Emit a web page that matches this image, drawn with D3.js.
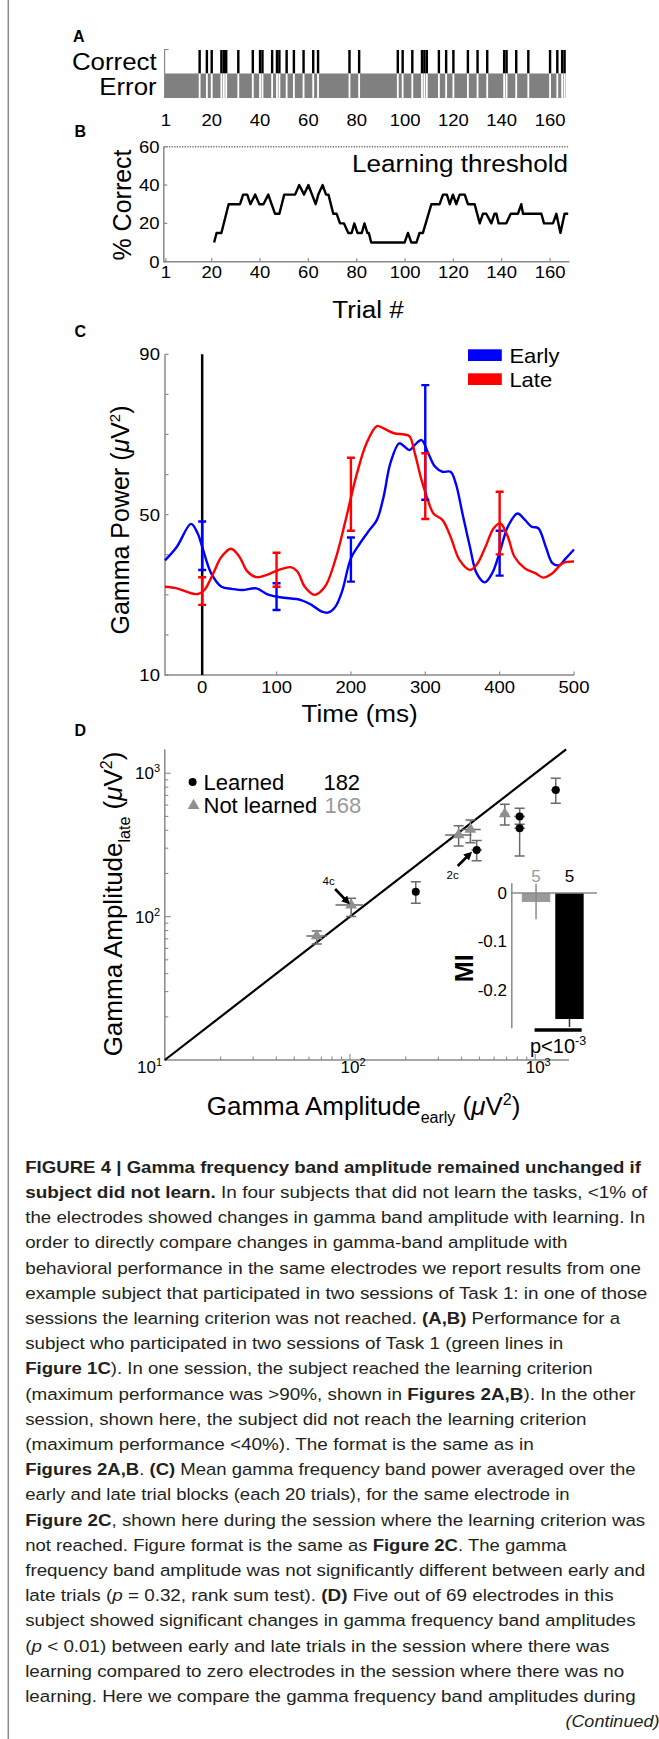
<!DOCTYPE html>
<html><head><meta charset="utf-8">
<script src="https://cdn.jsdelivr.net/npm/d3@7"></script>
<style>body{margin:0;background:#fff}svg{display:block}</style>
</head><body>
<svg id="fig" width="659" height="1739"></svg>
<script>
// ---------- DATA ----------
// Panel A: trial outcomes
const trialTicks = [1, 20, 40, 60, 80, 100, 120, 140, 160];
const nTrials = 166;
const correctTrials = [15, 18, 20, 24, 25, 26, 31, 37, 40, 41, 45, 47, 48, 51, 54, 58, 62, 64, 77, 81,
  97, 99, 103, 107, 108, 109, 114, 117, 120, 126, 130, 134, 141, 142, 146, 151, 160, 163, 165, 166];
// Panel B: % correct (moving window), vertices
const perfTrial = [21, 22, 24, 27, 31.7, 33, 34.7, 36, 38, 39.7, 41.4, 43.4, 46.2, 48, 50, 54.5, 56.2, 58.2, 60, 63,
  64.1, 65.9, 67.3, 68.3, 70.3, 71.7, 73.1, 74.7, 76.5, 77.9, 79, 80.3, 82.1, 83.2, 84.4, 85, 86, 99.8, 101.2, 102.6,
  104.7, 106, 107.4, 110.9, 114.3, 115.7, 117.3, 118.5, 119.8, 121.2, 122.6, 124.7, 126, 128.8, 130.9, 132.2, 133.6,
  135.7, 137, 137.8, 138.7, 141.9, 143.7, 146.7, 148.1, 148.8, 156.4, 157.5, 161.2, 162.6, 164.3, 166, 167.5];
const perfPct = [10, 15, 15, 30, 30, 35, 35, 30, 35, 30, 30, 35, 25, 25, 35, 35, 40, 35, 40, 30,
  35, 40, 35, 35, 25, 25, 20, 20, 15, 15, 20, 15, 15, 20, 15, 15, 10, 10, 15, 10,
  10, 15, 15, 30, 30, 35, 35, 30, 35, 30, 35, 35, 30, 30, 20, 25, 25,
  20, 25, 25, 20, 20, 25, 25, 30, 25, 25, 20, 20, 25, 15, 25, 25];
const pctTicks = [0, 20, 40, 60];
const thresholdPct = 60;

// Panel C: gamma power (uV^2)
const earlyTime = [-50, -34, -15, -6, 0, 12, 26, 40, 54, 73, 87, 105, 133, 147, 161, 170, 179, 188, 200, 212,
  225, 235, 244, 253, 265, 272, 279, 286, 295, 304, 313, 323, 334, 341, 350, 360, 369, 380, 390, 401,
  411, 424, 434, 443, 452, 462, 471, 480, 489, 500];
const earlyPower = [38.6, 42, 47.7, 45.3, 42, 35.4, 32, 31.5, 31.2, 31.6, 30.2, 29.4, 28.7, 27.5, 25.8, 25.6, 27, 30.8, 39.1, 42.8,
  46.2, 48.7, 54.5, 62.8, 67.8, 67, 66.1, 67.4, 68.6, 65.3, 62, 60.7, 60.7, 57.8, 50.3, 42, 35.4, 33.1, 35.4, 41.2,
  47, 50.3, 48.7, 47, 46.6, 42, 37.9, 37.4, 39.1, 41.3];
const lateTime = [-50, -34, -15, -6, 3, 15, 26, 39, 50, 61, 73, 87, 100, 119, 128, 138, 151, 165, 179, 193,
  207, 221, 235, 244, 258, 272, 279, 286, 295, 302, 311, 323, 334, 346, 360, 369, 381, 392, 401, 411,
  420, 434, 448, 459, 471, 485, 500];
const latePower = [32, 31.6, 30.4, 30.2, 31.2, 35.4, 39.5, 41.5, 39.5, 35.8, 34.4, 35, 36, 36.9, 35.8, 32, 30, 32, 38.7, 48.7,
  59.5, 67.8, 72.1, 71.5, 70.3, 70, 69.5, 65.3, 58.6, 54.5, 50.3, 48.7, 44.5, 38.7, 36.2, 37.5, 42, 46.6, 47.8, 44.5,
  39.5, 36.6, 35.4, 34.3, 35.4, 37.9, 38.3];
const errTime = [0, 100, 200, 300, 400];
const earlyLo = [36.2, 26.2, 33.3, 53.7, 34.8];
const earlyHi = [48.3, 32.9, 44.3, 82.3, 46.0];
const lateLo = [27.5, 32.0, 46.0, 48.9, 40.1];
const lateHi = [34.4, 40.5, 64.2, 65.3, 55.7];
const timeTicks = [0, 100, 200, 300, 400, 500];
const powerTicks = [10, 20, 30, 40, 50, 60, 70, 80, 90];
const powerLabels = [10, 50, 90];

// Panel D: gamma amplitude early vs late
const notLearnedX = [66.1, 101.4, 386, 446.7, 685];
const notLearnedY = [73.3, 120.5, 371.6, 406, 520];
const notLearnedXLo = [58.1, 83.5, 326, 398, 650];
const notLearnedXHi = [75, 117.8, 453, 508, 720];
const notLearnedYLo = [64.4, 100, 311, 328, 436];
const notLearnedYHi = [79.4, 134.3, 429.5, 472, 608];
const learnedX = [226.5, 483, 824, 824, 1291];
const learnedY = [149.3, 291.6, 499, 413, 765];
const learnedXLo = [219, 453, 773, 773, 1220];
const learnedXHi = [233, 515, 879, 879, 1360];
const learnedYLo = [124, 245.6, 440, 265, 618];
const learnedYHi = [175.4, 339, 570, 500, 923];
const learnedCount = "182", notLearnedCount = "168";
const logTickLabels = [10, 100, 1000];
// Inset: modulation index
const miGroups = ["Not learned", "Learned"];
const miValues = [-0.0186, -0.2608];
const miErrLo = [-0.0545, -0.2774];
const miErrHi = [0.0193, -0.2608];
const miN = [5, 5];
const miTicks = [0, -0.1, -0.2];

// ---------- DRAWING ----------
const FONT = "'Liberation Sans', Arial, Helvetica, sans-serif";
const CAPFONT = "'Liberation Sans Narrow', 'Liberation Sans', Arial, sans-serif";
const AX = "#8a8a8a";
const SX = 1.12;
const svg = d3.select("#fig").attr("font-family", FONT);

function st(g, x, y, s, size, anchor = "start", attrs = {}) {
  const t = g.append("text").attr("transform", `translate(${x},${y}) scale(${SX},1)`)
    .attr("font-size", size).attr("text-anchor", anchor).text(s);
  for (const k in attrs) t.attr(k, attrs[k]);
  return t;
}
function plain(g, x, y, s, size, anchor = "start") {
  return g.append("text").attr("x", x).attr("y", y).attr("font-size", size).attr("text-anchor", anchor).text(s);
}
function panelLetter(x, y, s) {
  svg.append("text").attr("x", x).attr("y", y).attr("font-size", 16).attr("font-weight", "bold").text(s);
}

// page border
svg.append("line").attr("x1", 8.3).attr("x2", 8.3).attr("y1", 0).attr("y2", 1739).attr("stroke", "#8c8c8c").attr("stroke-width", 1.5);

// ----- Panel A -----
panelLetter(73, 41.7, "A");
const xT = d3.scaleLinear().domain([1, 168]).range([165.8, 569.4]);
const gA = svg.append("g");
const rowTop = 50, rowMid = 73.5, rowBot = 98;
gA.append("rect").attr("x", xT(0.5)).attr("y", rowMid).attr("width", xT(nTrials + 0.5) - xT(0.5))
  .attr("height", rowBot - rowMid).attr("fill", "#808080");
gA.selectAll("rect.c").data(correctTrials).join("rect").attr("class", "c")
  .attr("x", d => xT(d - 0.5)).attr("width", d => xT(d + 0.5) - xT(d - 0.5))
  .attr("y", rowTop).attr("height", rowMid - rowTop).attr("fill", "#000");
gA.selectAll("rect.w").data(correctTrials).join("rect").attr("class", "w")
  .attr("x", d => xT(d - 0.5) + 0.3).attr("width", d => xT(d + 0.5) - xT(d - 0.5) - 0.6)
  .attr("y", rowMid).attr("height", rowBot - rowMid).attr("fill", "#fff");
gA.append("path").attr("d", `M${xT(0.5) + 4},${rowTop - 0.5}H${xT(0.5)}V${rowBot}`)
  .attr("fill", "none").attr("stroke", AX).attr("stroke-width", 1.2);
st(gA, 156.7, 70, "Correct", 23.1, "end");
st(gA, 156.7, 95, "Error", 23.1, "end");
trialTicks.forEach(t => st(gA, xT(t), 126, t, 16.5, "middle"));

// ----- Panel B -----
panelLetter(74.5, 136.7, "B");
const yB = d3.scaleLinear().domain([0, 60]).range([261.7, 146.7]);
const gB = svg.append("g");
const bx0 = xT(0.5) - 0.8, bx1 = xT(168);
gB.append("line").attr("x1", bx0).attr("x2", bx1).attr("y1", yB(thresholdPct)).attr("y2", yB(thresholdPct))
  .attr("stroke", "#777").attr("stroke-width", 1.5).attr("stroke-dasharray", "1.3,1.3");
gB.append("path").attr("d", `M${bx0},${yB(thresholdPct)}V${yB(0)}H${bx1}`)
  .attr("fill", "none").attr("stroke", AX).attr("stroke-width", 1.5);
trialTicks.forEach(t => gB.append("line").attr("x1", xT(t)).attr("x2", xT(t)).attr("y1", yB(0)).attr("y2", yB(0) - 3.5).attr("stroke", AX).attr("stroke-width", 1.2));
pctTicks.forEach(p => gB.append("line").attr("x1", bx0).attr("x2", bx0 + 3.5).attr("y1", yB(p)).attr("y2", yB(p)).attr("stroke", AX).attr("stroke-width", 1.2));
gB.append("path").datum(perfTrial.map((t, i) => [t, perfPct[i]]))
  .attr("d", d3.line().x(d => xT(d[0])).y(d => yB(d[1])))
  .attr("fill", "none").attr("stroke", "#000").attr("stroke-width", 2.4).attr("stroke-linejoin", "round");
st(gB, 568, 171.7, "Learning threshold", 23.3, "end");
trialTicks.forEach(t => st(gB, xT(t), 278, t, 16.5, "middle"));
pctTicks.forEach(p => st(gB, 159.5, yB(p) + 6, p, 16.5, "end"));
st(gB, 368, 318.3, "Trial #", 23.3, "middle");
gB.append("text").attr("transform", "translate(130.5,205) rotate(-90)").attr("font-size", 25)
  .attr("text-anchor", "middle").text("% Correct");

// ----- Panel C -----
panelLetter(74.5, 336.7, "C");
const xC = d3.scaleLinear().domain([-50, 500]).range([165, 574]);
const yC = d3.scaleLinear().domain([10, 90]).range([675, 354.3]);
const gC = svg.append("g");
gC.append("path").attr("d", `M${xC(-50)},${yC(90)}V${yC(10)}H${xC(500)}`)
  .attr("fill", "none").attr("stroke", AX).attr("stroke-width", 1.5);
powerTicks.forEach(p => gC.append("line").attr("x1", xC(-50)).attr("x2", xC(-50) + 3.5).attr("y1", yC(p)).attr("y2", yC(p)).attr("stroke", AX).attr("stroke-width", 1.2));
timeTicks.forEach(t => gC.append("line").attr("x1", xC(t)).attr("x2", xC(t)).attr("y1", yC(10)).attr("y2", yC(10) - 3.5).attr("stroke", AX).attr("stroke-width", 1.2));
gC.append("line").attr("x1", xC(0)).attr("x2", xC(0)).attr("y1", yC(90)).attr("y2", yC(10))
  .attr("stroke", "#000").attr("stroke-width", 2.5);
const lineC = d3.line().x(d => xC(d[0])).y(d => yC(d[1])).curve(d3.curveCatmullRom.alpha(0.5));
gC.append("path").datum(earlyTime.map((t, i) => [t, earlyPower[i]])).attr("d", lineC)
  .attr("fill", "none").attr("stroke", "#0000ff").attr("stroke-width", 2.4);
gC.append("path").datum(lateTime.map((t, i) => [t, latePower[i]])).attr("d", lineC)
  .attr("fill", "none").attr("stroke", "#ff0000").attr("stroke-width", 2.4);
function errBars(g, lo, hi, col) {
  errTime.forEach((t, i) => {
    const x = xC(t);
    g.append("path").attr("d", `M${x},${yC(lo[i])}V${yC(hi[i])}M${x - 4},${yC(lo[i])}H${x + 4}M${x - 4},${yC(hi[i])}H${x + 4}`)
      .attr("fill", "none").attr("stroke", col).attr("stroke-width", 2.4);
  });
}
errBars(gC, earlyLo, earlyHi, "#0000ff");
errBars(gC, lateLo, lateHi, "#ff0000");
powerLabels.forEach(p => st(gC, 159.9, yC(p) + 6, p, 16.5, "end"));
timeTicks.forEach(t => st(gC, xC(t), 692.7, t, 16.5, "middle"));
gC.append("rect").attr("x", 468).attr("y", 349.3).attr("width", 33.8).attr("height", 11.7).attr("fill", "#0000ff");
gC.append("rect").attr("x", 468).attr("y", 373.3).attr("width", 33.8).attr("height", 11.7).attr("fill", "#ff0000");
st(gC, 509.4, 363.3, "Early", 19.6);
st(gC, 509.4, 386.7, "Late", 19.6);
st(gC, 359.6, 721.7, "Time (ms)", 23.3, "middle");
{
  const t = gC.append("text").attr("transform", "translate(129,520) rotate(-90)").attr("font-size", 25).attr("text-anchor", "middle");
  t.append("tspan").text("Gamma Power (");
  t.append("tspan").attr("font-style", "italic").text("\u03bc");
  t.append("tspan").text("V");
  t.append("tspan").attr("font-size", 15).attr("dy", -9).text("2");
  t.append("tspan").attr("dy", 9).text(")");
}

// ----- Panel D -----
panelLetter(74.5, 736, "D");
const xD = d3.scaleLog().domain([10, 1522]).range([164.8, 569]);
const yD = d3.scaleLog().domain([10, 1469]).range([1060, 749.3]);
const gD = svg.append("g");
gD.append("path").attr("d", `M${xD(10)},${yD(1469)}V${yD(10)}H${xD(1522)}`)
  .attr("fill", "none").attr("stroke", AX).attr("stroke-width", 1.5);
xD.ticks().filter(v => v > 10 && v <= 1522).forEach(v => {
  const major = Math.abs(Math.log10(v) - Math.round(Math.log10(v))) < 1e-9;
  gD.append("line").attr("x1", xD(v)).attr("x2", xD(v)).attr("y1", yD(10)).attr("y2", yD(10) - (major ? 6 : 3.5)).attr("stroke", AX).attr("stroke-width", 1.1);
});
yD.ticks().filter(v => v > 10 && v <= 1469).forEach(v => {
  const major = Math.abs(Math.log10(v) - Math.round(Math.log10(v))) < 1e-9;
  gD.append("line").attr("x1", xD(10)).attr("x2", xD(10) + (major ? 6 : 3.5)).attr("y1", yD(v)).attr("y2", yD(v)).attr("stroke", AX).attr("stroke-width", 1.1);
});
// unity line
const uMax = Math.min(xD.domain()[1], yD.domain()[1]);
gD.append("line").attr("x1", xD(10)).attr("y1", yD(10)).attr("x2", xD(uMax)).attr("y2", yD(uMax))
  .attr("stroke", "#000").attr("stroke-width", 2.2);
function supLabel(g, x, y, v, anchor) {
  const e = Math.round(Math.log10(v));
  const t = g.append("text").attr("x", x).attr("y", y).attr("font-size", 17).attr("text-anchor", anchor);
  t.append("tspan").text("10");
  t.append("tspan").attr("font-size", 11).attr("dy", -7).text(e);
  return t;
}
logTickLabels.forEach(v => {
  if (v === 10) supLabel(gD, 162, 1073.3, v, "end");
  else {
    supLabel(gD, xD(v) + 3, 1073.3, v, "middle");
    supLabel(gD, 160, yD(v) + 6, v, "end");
  }
});
// error bars + points
const EB = "#6a6a6a";
function dErr(xs, ys, xl, xh, yl, yh) {
  xs.forEach((xv, i) => {
    const cx = xD(xv), cy = yD(ys[i]);
    gD.append("path").attr("d",
      `M${xD(xl[i])},${cy}H${xD(xh[i])}M${cx},${yD(yl[i])}V${yD(yh[i])}M${cx - 5},${yD(yl[i])}H${cx + 5}M${cx - 5},${yD(yh[i])}H${cx + 5}`)
      .attr("fill", "none").attr("stroke", EB).attr("stroke-width", 1.5);
  });
}
dErr(notLearnedX, notLearnedY, notLearnedXLo, notLearnedXHi, notLearnedYLo, notLearnedYHi);
dErr(learnedX, learnedY, learnedXLo, learnedXHi, learnedYLo, learnedYHi);
const tri = d3.symbol().type(d3.symbolTriangle).size(60);
notLearnedX.forEach((xv, i) => gD.append("path").attr("d", tri).attr("transform", `translate(${xD(xv)},${yD(notLearnedY[i])})`).attr("fill", "#8f8f8f"));
learnedX.forEach((xv, i) => gD.append("circle").attr("cx", xD(xv)).attr("cy", yD(learnedY[i])).attr("r", 4).attr("fill", "#000"));
// annotations
const defs = svg.append("defs");
defs.append("marker").attr("id", "arr").attr("viewBox", "0 0 10 10").attr("refX", 6).attr("refY", 5)
  .attr("markerWidth", 3.2).attr("markerHeight", 3.2).attr("orient", "auto")
  .append("path").attr("d", "M0,0L10,5L0,10z").attr("fill", "#000");
const annotations = [
  { label: "4c", px: xD(notLearnedX[1]), py: yD(notLearnedY[1]), tail: [-16, -16], tip: [-3.5, -3], text: [-22.5, -20] },
  { label: "2c", px: xD(learnedX[1]), py: yD(learnedY[1]), tail: [-19, 16], tip: [-7, 4], text: [-24, 29] }
];
annotations.forEach(a => {
  gD.append("line").attr("x1", a.px + a.tail[0]).attr("y1", a.py + a.tail[1]).attr("x2", a.px + a.tip[0]).attr("y2", a.py + a.tip[1])
    .attr("stroke", "#000").attr("stroke-width", 2.6).attr("marker-end", "url(#arr)");
  plain(gD, a.px + a.text[0], a.py + a.text[1], a.label, 11.5, "middle");
});
// legend
gD.append("circle").attr("cx", 192.6).attr("cy", 782).attr("r", 4).attr("fill", "#000");
gD.append("path").attr("d", tri).attr("transform", "translate(193.6,805.5)").attr("fill", "#8f8f8f");
plain(gD, 203.5, 790, "Learned", 22);
plain(gD, 323.4, 790, learnedCount, 22);
plain(gD, 203.5, 812.7, "Not learned", 22);
plain(gD, 324.5, 812.7, notLearnedCount, 22).attr("fill", "#9a9a9a");
// axis titles
{
  const t = gD.append("text").attr("x", 363.6).attr("y", 1115).attr("font-size", 26).attr("text-anchor", "middle");
  t.append("tspan").text("Gamma Amplitude");
  t.append("tspan").attr("font-size", 16).attr("dy", 8).text("early");
  t.append("tspan").attr("dy", -8).text(" (");
  t.append("tspan").attr("font-style", "italic").text("\u03bc");
  t.append("tspan").text("V");
  t.append("tspan").attr("font-size", 16).attr("dy", -10).text("2");
  t.append("tspan").attr("dy", 10).text(")");
}
{
  const t = gD.append("text").attr("transform", "translate(122,904) rotate(-90)").attr("font-size", 26).attr("text-anchor", "middle");
  t.append("tspan").text("Gamma Amplitude");
  t.append("tspan").attr("font-size", 16).attr("dy", 8).text("late");
  t.append("tspan").attr("dy", -8).text(" (");
  t.append("tspan").attr("font-style", "italic").text("\u03bc");
  t.append("tspan").text("V");
  t.append("tspan").attr("font-size", 16).attr("dy", -10).text("2");
  t.append("tspan").attr("dy", 10).text(")");
}
// inset
const gI = svg.append("g");
const yI = d3.scaleLinear().domain([-0.28, 0.02]).range([1028.3, 883.3]);
const xI = d3.scaleBand().domain(miGroups).range([511.8, 597]).paddingInner(0.15).paddingOuter(0.35).align(0.43);
const bw = xI.bandwidth();
gI.selectAll("rect").data(miGroups).join("rect")
  .attr("x", d => xI(d)).attr("width", bw)
  .attr("y", (d, i) => yI(0)).attr("height", (d, i) => yI(miValues[i]) - yI(0))
  .attr("fill", (d, i) => i === 0 ? "#9a9a9a" : "#000");
miGroups.forEach((g, i) => {
  const cx = xI(g) + bw / 2;
  gI.append("line").attr("x1", cx).attr("x2", cx).attr("y1", yI(miErrLo[i])).attr("y2", yI(miErrHi[i]))
    .attr("stroke", i === 0 ? "#8a8a8a" : "#333").attr("stroke-width", 1.5);
  plain(gI, cx, 881.7, miN[i], 17, "middle").attr("fill", i === 0 ? "#9a9a9a" : "#000");
});
gI.append("line").attr("x1", 511.8).attr("x2", 511.8).attr("y1", yI(0.02)).attr("y2", yI(-0.28)).attr("stroke", AX).attr("stroke-width", 1.5);
gI.append("line").attr("x1", 511.8).attr("x2", 597).attr("y1", yI(0)).attr("y2", yI(0)).attr("stroke", AX).attr("stroke-width", 1.5);
miTicks.forEach(v => plain(gI, 507, yI(v) + 6, v === 0 ? "0" : v.toFixed(1), 17, "end"));
gI.append("line").attr("x1", xI(miGroups[0]) + bw / 2 - 1.5).attr("x2", xI(miGroups[1]) + bw - 2)
  .attr("y1", 1030).attr("y2", 1030).attr("stroke", "#000").attr("stroke-width", 3.3);
{
  const t = gI.append("text").attr("x", 530).attr("y", 1053.3).attr("font-size", 20);
  t.append("tspan").text("p<10");
  t.append("tspan").attr("font-size", 12.5).attr("dy", -8).text("-3");
}
gI.append("text").attr("transform", "translate(473,968.3) rotate(-90)").attr("font-size", 25)
  .attr("font-weight", "bold").attr("text-anchor", "middle").text("MI");

// ----- Caption -----
const captionLines = [
  [["b", "FIGURE 4 | Gamma frequency band amplitude remained unchanged if"]],
  [["b", "subject did not learn."], ["r", " In four subjects that did not learn the tasks, <1% of"]],
  [["r", "the electrodes showed changes in gamma band amplitude with learning. In"]],
  [["r", "order to directly compare changes in gamma-band amplitude with"]],
  [["r", "behavioral performance in the same electrodes we report results from one"]],
  [["r", "example subject that participated in two sessions of Task 1: in one of those"]],
  [["r", "sessions the learning criterion was not reached. "], ["b", "(A,B)"], ["r", " Performance for a"]],
  [["r", "subject who participated in two sessions of Task 1 (green lines in"]],
  [["b", "Figure 1C"], ["r", "). In one session, the subject reached the learning criterion"]],
  [["r", "(maximum performance was >90%, shown in "], ["b", "Figures 2A,B"], ["r", "). In the other"]],
  [["r", "session, shown here, the subject did not reach the learning criterion"]],
  [["r", "(maximum performance <40%). The format is the same as in"]],
  [["b", "Figures 2A,B"], ["r", ". "], ["b", "(C)"], ["r", " Mean gamma frequency band power averaged over the"]],
  [["r", "early and late trial blocks (each 20 trials), for the same electrode in"]],
  [["b", "Figure 2C"], ["r", ", shown here during the session where the learning criterion was"]],
  [["r", "not reached. Figure format is the same as "], ["b", "Figure 2C"], ["r", ". The gamma"]],
  [["r", "frequency band amplitude was not significantly different between early and"]],
  [["r", "late trials ("], ["i", "p"], ["r", " = 0.32, rank sum test). "], ["b", "(D)"], ["r", " Five out of 69 electrodes in this"]],
  [["r", "subject showed significant changes in gamma frequency band amplitudes"]],
  [["r", "("], ["i", "p"], ["r", " < 0.01) between early and late trials in the session where there was"]],
  [["r", "learning compared to zero electrodes in the session where there was no"]],
  [["r", "learning. Here we compare the gamma frequency band amplitudes during"]]
];
const captionEnds = [641, 647.3, 645.2, 567.5, 641, 647.3, 620, 563.3, 592.7, 635.6, 586.4, 533.8,
  635.6, 569.6, 645.2, 566.6, 645.2, 613.7, 635.6, 609.5, 624.2, 635.6];
const capX = 25.2, capY0 = 1172.7, capDY = 25.2;
captionLines.forEach((runs, i) => {
  const t = svg.append("text").attr("x", capX).attr("y", capY0 + i * capDY).attr("font-size", 16.3)
    .attr("font-family", CAPFONT).attr("fill", "#231f20").style("white-space", "pre")
    .attr("textLength", captionEnds[i] - capX).attr("lengthAdjust", "spacingAndGlyphs");
  runs.forEach(([s, txt]) => {
    const ts = t.append("tspan").text(txt);
    if (s === "b") ts.attr("font-weight", "bold");
    if (s === "i") ts.attr("font-style", "italic");
  });
});
svg.append("text").attr("x", 565.4).attr("y", capY0 + captionLines.length * capDY).attr("font-size", 16.3)
  .attr("font-family", CAPFONT).attr("font-style", "italic").attr("fill", "#231f20")
  .attr("textLength", 94).attr("lengthAdjust", "spacingAndGlyphs").text("(Continued)");
</script>
</body></html>
